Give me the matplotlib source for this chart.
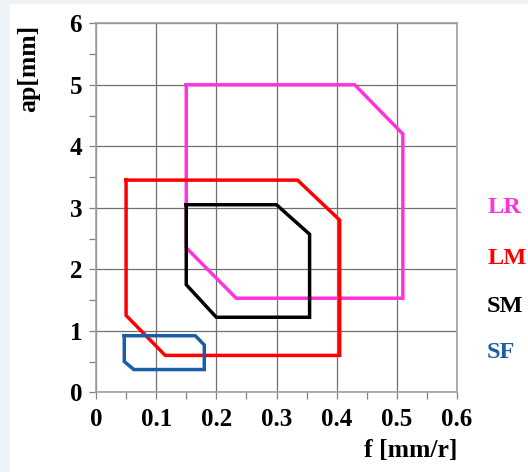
import matplotlib.pyplot as plt
from matplotlib.patches import Rectangle
from matplotlib.ticker import MultipleLocator

# cutting-condition regions, f [mm/r] vs ap [mm]
lr_f = [0.15, 0.43, 0.51, 0.51, 0.233, 0.15, 0.15]
lr_ap = [5.0, 5.0, 4.2, 1.53, 1.53, 2.35, 5.0]
lm_f = [0.05, 0.335, 0.405, 0.405, 0.115, 0.05, 0.05]
lm_ap = [3.45, 3.45, 2.8, 0.6, 0.6, 1.25, 3.45]
sm_f = [0.15, 0.30, 0.355, 0.355, 0.20, 0.15, 0.15]
sm_ap = [3.05, 3.05, 2.57, 1.22, 1.22, 1.75, 3.05]
sf_f = [0.047, 0.165, 0.18, 0.18, 0.063, 0.047, 0.047]
sf_ap = [0.92, 0.92, 0.77, 0.37, 0.37, 0.5, 0.92]

names = ['LR', 'LM', 'SM', 'SF']
colors = ['#ff33dd', '#ff0000', '#000000', '#1a5ea8']
label_y = [3.01, 2.18, 1.4, 0.64]
xticks = [0, 0.1, 0.2, 0.3, 0.4, 0.5, 0.6]
xtick_labels = ['0', '0.1', '0.2', '0.3', '0.4', '0.5', '0.6']

plt.rcParams['font.family'] = ['Liberation Serif', 'DejaVu Serif']
plt.rcParams['font.weight'] = 'bold'

fig = plt.figure(figsize=(5.28, 4.72), dpi=100, facecolor='#eef3f7')
fig.patches.append(Rectangle((10 / 528, 0), 1, 1 - 4 / 472, transform=fig.transFigure,
                             facecolor='white', edgecolor='none', zorder=-10))
ax = fig.add_axes([96 / 528, 1 - 392.3 / 472, 361 / 528, 369 / 472])

for fs, aps, c in zip([lr_f, lm_f, sm_f, sf_f], [lr_ap, lm_ap, sm_ap, sf_ap], colors):
    ax.plot(fs, aps, color=c, lw=2.5, solid_joinstyle='miter', zorder=3)

for n, c, yy in zip(names, colors, label_y):
    ax.text(0.65, yy, n, color=c, fontsize=17.5, fontweight='bold', va='center', ha='left',
            clip_on=False)

ax.set_xlim(0, 0.6)
ax.set_ylim(0, 6)
ax.set_xticks(xticks)
ax.set_xticklabels(xtick_labels)
ax.xaxis.set_minor_locator(MultipleLocator(0.05))
ax.yaxis.set_major_locator(MultipleLocator(1))
ax.yaxis.set_minor_locator(MultipleLocator(0.5))
ax.grid(True, which='major', color='#707070', lw=0.9)
ax.set_axisbelow(True)
for s in ax.spines.values():
    s.set_color('#a0a0a0')
    s.set_linewidth(1.2)
ax.tick_params(which='both', direction='out', length=5, color='#808080', width=0.9)
ax.tick_params(axis='x', labelsize=18, pad=6)
ax.tick_params(axis='y', labelsize=18, pad=5)
for t in ax.get_xticklabels() + ax.get_yticklabels():
    t.set_fontweight('bold')

fig.text(29 / 528, 1 - 68 / 472, 'ap[mm]', rotation=90, ha='center', va='center',
         fontsize=18.5, fontweight='bold')
fig.text(457 / 528, 1 - 450 / 472, 'f [mm/r]', ha='right', va='center',
         fontsize=18.5, fontweight='bold')

fig.savefig('out.png', dpi=100, facecolor=fig.get_facecolor())
